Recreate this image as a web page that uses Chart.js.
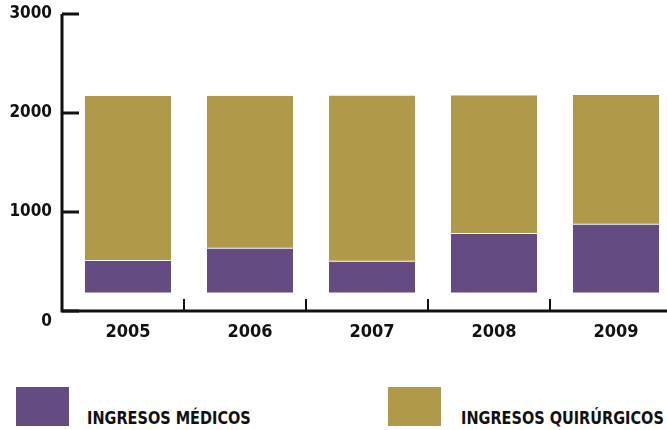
<!DOCTYPE html>
<html>
<head>
<meta charset="utf-8">
<script src="https://cdn.jsdelivr.net/npm/chart.js@4/dist/chart.umd.min.js"></script>
<style>
    html, body {
        margin: 0;
        padding: 0;
        background: #fff;
        width: 667px;
        height: 430px;
        overflow: hidden;
    }
    #chart {
        position: absolute;
        left: 0;
        top: 0;
    }
    .legend-box {
        position: absolute;
        top: 387px;
        width: 53px;
        height: 39px;
    }
    .legend-text {
        position: absolute;
        top: 410px;
        font-family: "DejaVu Sans Condensed", sans-serif;
        font-weight: bold;
        font-size: 17.5px;
        line-height: 17.5px;
        color: #111;
        white-space: nowrap;
        transform: scaleX(0.92);
        transform-origin: left top;
    }
</style>
</head>
<body>
<canvas id="chart" width="690" height="360"></canvas>
<div class="legend-box" style="left:16px;background:#644b82"></div>
<div class="legend-text" style="left:87px">INGRESOS MÉDICOS</div>
<div class="legend-box" style="left:388px;background:#b09a4a"></div>
<div class="legend-text" style="left:461px">INGRESOS QUIRÚRGICOS</div>
<script>
const years = ["2005", "2006", "2007", "2008", "2009"];
// bars start a little above zero in the original
const barBase = [187, 187, 187, 188, 188];
// top of the medical block and top of the whole bar (medical + surgical)
const medicosTop = [505, 629, 498, 778, 872];
const totalTop = [2172, 2175, 2178, 2180, 2182];
const yTicks = [0, 1000, 2000, 3000];

const colors = {
    medicos: "#644b82",
    quirurgicos: "#b09a4a",
    axis: "#111111",
};

const fontFamily = '"DejaVu Sans Condensed", sans-serif';

// axes in the original: y line a bit left of the first slot, ticks pointing inward
const axisFrame = {
    id: "axisFrame",
    afterDatasetsDraw(chart) {
        const { ctx, chartArea } = chart;
        const x = chart.scales.x;
        const y = chart.scales.y;
        const left = chartArea.left - 5;
        const y0 = y.getPixelForValue(0);
        const yTop = y.getPixelForValue(yTicks[yTicks.length - 1]);

        ctx.save();
        ctx.strokeStyle = colors.axis;
        ctx.lineWidth = 3;
        ctx.beginPath();
        ctx.moveTo(left, yTop);
        ctx.lineTo(left, y0);
        ctx.lineTo(chart.width, y0);
        ctx.stroke();

        yTicks.forEach((v) => {
            const py = y.getPixelForValue(v);
            ctx.beginPath();
            ctx.moveTo(left, py);
            ctx.lineTo(left + 17, py);
            ctx.stroke();
        });

        ctx.lineWidth = 2;
        for (let i = 1; i < years.length; i++) {
            const px = (x.getPixelForValue(i - 1) + x.getPixelForValue(i)) / 2 - 5;
            ctx.beginPath();
            ctx.moveTo(px, y0);
            ctx.lineTo(px, y0 - 12);
            ctx.stroke();
        }
        ctx.restore();
    },
};

const chart = new Chart(document.getElementById("chart"), {
    type: "bar",
    data: {
        labels: years,
        datasets: [
            {
                label: "INGRESOS MÉDICOS",
                data: years.map((_, i) => [barBase[i], medicosTop[i]]),
                backgroundColor: colors.medicos,
                borderWidth: 0,
            },
            {
                label: "INGRESOS QUIRÚRGICOS",
                data: years.map((_, i) => [medicosTop[i], totalTop[i]]),
                backgroundColor: colors.quirurgicos,
                borderColor: "#ffffff",
                borderWidth: { top: 0, left: 0, right: 0, bottom: 1 },
                borderSkipped: false,
            },
        ],
    },
    options: {
        responsive: false,
        animation: false,
        layout: {
            padding: { top: 14, right: 13, left: 0, bottom: 0 },
        },
        datasets: {
            bar: {
                grouped: false,
                categoryPercentage: 1,
                barPercentage: 0.705,
            },
        },
        plugins: {
            legend: { display: false },
            tooltip: { enabled: false },
        },
        scales: {
            x: {
                offset: true,
                grid: { display: false },
                border: { display: false },
                ticks: {
                    color: colors.axis,
                    padding: 3,
                    maxRotation: 0,
                    font: { family: fontFamily, size: 18, weight: "bold" },
                },
                afterFit: (scale) => {
                    scale.height = 49;
                },
            },
            y: {
                min: 0,
                max: 3000,
                grid: { display: false, drawTicks: false },
                border: { display: false },
                ticks: {
                    stepSize: 1000,
                    color: colors.axis,
                    padding: 15,
                    font: { family: fontFamily, size: 17, weight: "bold" },
                    // the 0 label sits below the axis line in the original
                    callback: (value) => (value === 0 ? ["", "0"] : String(value)),
                },
                afterFit: (scale) => {
                    scale.width = 67;
                    scale.paddingTop = 0;
                    scale.paddingBottom = 0;
                },
            },
        },
    },
    plugins: [axisFrame],
});
</script>
</body>
</html>
